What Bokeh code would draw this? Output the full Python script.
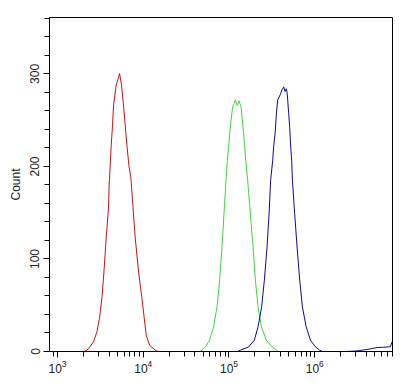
from bokeh.plotting import figure
from bokeh.models import Range1d, SingleIntervalTicker, LogTicker
from bokeh.embed import file_html
from bokeh.resources import INLINE

# --- data (log10 of intensity, count) ---
red_logx = [3.30, 3.335, 3.362, 3.420, 3.460, 3.490, 3.518, 3.542, 3.568, 3.595,
            3.603, 3.615, 3.627, 3.642, 3.654, 3.685, 3.705, 3.724, 3.747, 3.770,
            3.790, 3.810, 3.833, 3.857, 3.880, 3.907, 3.946, 3.985, 4.012, 4.035,
            4.074, 4.140, 4.175, 4.21]
red_count = [0, 0.6, 3.2, 10.4, 21.2, 36, 57.6, 86, 122.5, 155,
             180, 201, 223, 244.6, 266, 288, 294, 300.5, 288, 266,
             244.6, 223, 201, 187, 157, 122.5, 86, 57.6, 36, 17.6,
             6.8, 1.4, 0, 0]

green_logx = [4.66, 4.686, 4.724, 4.774, 4.821, 4.861, 4.891, 4.919, 4.942, 4.966,
              4.981, 4.996, 5.008, 5.024, 5.043, 5.060, 5.074, 5.094, 5.117, 5.141,
              5.156, 5.171, 5.183, 5.195, 5.218, 5.249, 5.281, 5.308, 5.339, 5.378,
              5.436, 5.503, 5.553, 5.58]
green_count = [0, 1.4, 5, 12.2, 26.8, 48.4, 77.2, 113.1, 149.2, 185.2,
               206.8, 221.2, 235.6, 250, 264.4, 268, 272, 266, 271, 264.4,
               250, 235.6, 221.2, 206.8, 185.2, 149.2, 113.1, 77.2, 48.4, 26.8,
               12.2, 5, 1.4, 0]

blue_logx = [5.10, 5.133, 5.230, 5.296, 5.339, 5.381, 5.413, 5.444, 5.468, 5.486,
             5.510, 5.521, 5.538, 5.553, 5.568, 5.600, 5.619, 5.638, 5.654, 5.668,
             5.678, 5.685, 5.696, 5.708, 5.720, 5.731, 5.740, 5.766, 5.794, 5.825,
             5.856, 5.900, 5.950, 6.008, 6.058, 6.09, 6.358, 6.495, 6.557, 6.611,
             6.670, 6.728, 6.790, 6.860, 6.883, 6.901, 6.906]
blue_count = [0, 1.4, 5, 12.2, 26.8, 48.4, 77.2, 113.1, 149.2, 185.2,
              206.8, 221.2, 235.6, 257.3, 271.7, 278, 283, 286, 281, 284,
              280, 271.7, 257.3, 242.9, 221.2, 206.8, 185.2, 149.2, 113.1, 77.2,
              48.4, 26.8, 12.2, 5, 1.4, 0, 0, 0.6, 1.5, 2.2,
              3.2, 4.3, 4.5, 5, 5.2, 10.4, 10.4]

x_start_exp = 2.907
x_end_exp = 6.907
y_max = 361

p = figure(width=407, height=380, x_axis_type="log",
           x_range=Range1d(10 ** x_start_exp, 10 ** x_end_exp),
           y_range=Range1d(0, y_max),
           output_backend="svg", toolbar_location=None,
           min_border_left=49, min_border_right=15,
           min_border_top=17, min_border_bottom=29)

for lx, cnt, col in [(red_logx, red_count, "#cc1111"),
                     (green_logx, green_count, "#3ed43e"),
                     (blue_logx, blue_count, "#0a0a9c")]:
    p.line([10 ** v for v in lx], cnt, line_color=col, line_width=1)

p.xgrid.visible = False
p.ygrid.visible = False
p.outline_line_color = "black"
p.outline_line_width = 1
p.outline_line_alpha = 1
p.background_fill_color = "white"
p.border_fill_color = "white"

p.xaxis.ticker = LogTicker(num_minor_ticks=10)
p.yaxis.ticker = SingleIntervalTicker(interval=100, num_minor_ticks=5)
p.yaxis.axis_label = "Count"

for ax in (p.xaxis[0], p.yaxis[0]):
    ax.axis_line_color = "black"
    ax.major_tick_line_color = "black"
    ax.minor_tick_line_color = "black"
    ax.major_tick_in = 0
    ax.minor_tick_in = 0
    ax.major_tick_out = 6
    ax.minor_tick_out = 5
    ax.major_label_text_font = "Liberation Sans"
    ax.major_label_text_font_size = "12px"
    ax.major_label_text_color = "#222222"
    ax.axis_label_text_font = "Liberation Sans"
    ax.axis_label_text_font_size = "12px"
    ax.axis_label_text_font_style = "normal"
    ax.axis_label_text_color = "#222222"

p.yaxis.major_label_orientation = "vertical"
p.yaxis.major_label_standoff = 4
p.yaxis.axis_label_standoff = 5
p.xaxis.major_label_standoff = 2

open("out.html", "w").write(file_html(p, INLINE))
